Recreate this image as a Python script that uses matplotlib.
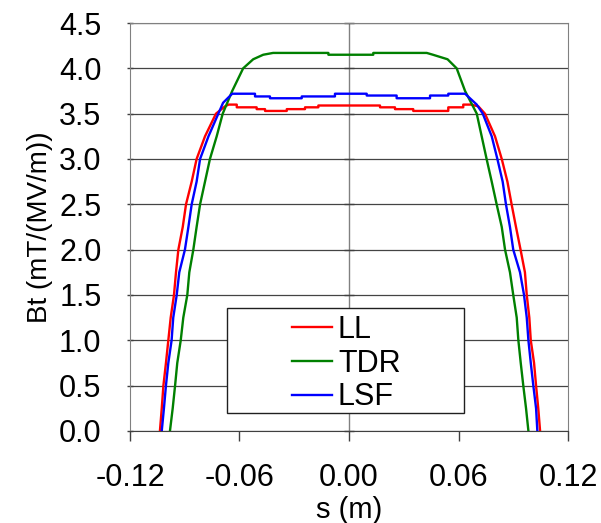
import matplotlib

matplotlib.use("Agg")
import matplotlib.pyplot as plt
from matplotlib.patches import Rectangle

plt.rcParams["font.family"] = ["Liberation Sans", "DejaVu Sans"]

# LL
ll_s = [-0.1036, -0.1026, -0.1017, -0.1003, -0.0990, -0.0977, -0.0959, -0.0948,
        -0.0935, -0.0911, -0.0893, -0.0862, -0.0835, -0.0789, -0.0729, -0.0680,
        -0.0660, -0.0615, -0.0615, -0.0506, -0.0506, -0.0460, -0.0460, -0.0341,
        -0.0341, -0.0241, -0.0241, -0.0168, -0.0168, 0.0170, 0.0170, 0.0252,
        0.0252, 0.0352, 0.0352, 0.0544, 0.0544, 0.0626, 0.0626, 0.0670,
        0.0709, 0.0745, 0.0800, 0.0837, 0.0868, 0.0891, 0.0915, 0.0940,
        0.0964, 0.0974, 0.0988, 0.0996, 0.1014, 0.1025, 0.1037, 0.1047]
ll_bt = [0.00, 0.25, 0.50, 0.75, 1.00, 1.25, 1.50, 1.75,
         2.00, 2.25, 2.50, 2.75, 3.00, 3.25, 3.50, 3.58,
         3.60, 3.60, 3.57, 3.57, 3.55, 3.55, 3.53, 3.53,
         3.55, 3.55, 3.57, 3.57, 3.59, 3.59, 3.57, 3.57,
         3.55, 3.55, 3.53, 3.53, 3.57, 3.57, 3.60, 3.60,
         3.58, 3.50, 3.25, 3.00, 2.75, 2.50, 2.25, 2.00,
         1.75, 1.50, 1.25, 1.00, 0.75, 0.50, 0.25, 0.00]

# TDR
tdr_s = [-0.0981, -0.0966, -0.0953, -0.0941, -0.0922, -0.0908, -0.0886, -0.0875,
         -0.0853, -0.0835, -0.0816, -0.0789, -0.0762, -0.0725, -0.0692, -0.0640,
         -0.0580, -0.0525, -0.0470, -0.0416, -0.0113, -0.0113, 0.0133, 0.0133,
         0.0426, 0.0460, 0.0540, 0.0590, 0.0636, 0.0700, 0.0727, 0.0754,
         0.0782, 0.0809, 0.0837, 0.0855, 0.0882, 0.0900, 0.0919, 0.0928,
         0.0941, 0.0955, 0.0970, 0.0983]
tdr_bt = [0.00, 0.25, 0.50, 0.75, 1.00, 1.25, 1.50, 1.75,
          2.00, 2.25, 2.50, 2.75, 3.00, 3.25, 3.50, 3.75,
          4.00, 4.10, 4.15, 4.17, 4.17, 4.15, 4.15, 4.17,
          4.17, 4.15, 4.10, 4.00, 3.75, 3.50, 3.25, 3.00,
          2.75, 2.50, 2.25, 2.00, 1.75, 1.50, 1.25, 1.00,
          0.75, 0.50, 0.25, 0.00]

# LSF
lsf_s = [-0.1026, -0.1014, -0.1003, -0.0990, -0.0972, -0.0963, -0.0944, -0.0930,
         -0.0899, -0.0880, -0.0862, -0.0835, -0.0816, -0.0770, -0.0716, -0.0690,
         -0.0640, -0.0515, -0.0515, -0.0433, -0.0433, -0.0259, -0.0259, -0.0077,
         -0.0077, 0.0097, 0.0097, 0.0261, 0.0261, 0.0444, 0.0444, 0.0544,
         0.0544, 0.0636, 0.0700, 0.0733, 0.0782, 0.0813, 0.0842, 0.0860,
         0.0882, 0.0900, 0.0937, 0.0959, 0.0974, 0.0983, 0.0996, 0.1010,
         0.1025, 0.1032]
lsf_bt = [0.00, 0.25, 0.50, 0.75, 1.00, 1.25, 1.50, 1.75,
          2.00, 2.25, 2.50, 2.75, 3.00, 3.25, 3.50, 3.62,
          3.72, 3.72, 3.69, 3.69, 3.67, 3.67, 3.69, 3.69,
          3.72, 3.72, 3.70, 3.70, 3.67, 3.67, 3.70, 3.70,
          3.72, 3.72, 3.60, 3.50, 3.25, 3.00, 2.75, 2.50,
          2.25, 2.00, 1.75, 1.50, 1.25, 1.00, 0.75, 0.50,
          0.25, 0.00]

x_ticks = [-0.12, -0.06, 0.00, 0.06, 0.12]
y_ticks = [0.0, 0.5, 1.0, 1.5, 2.0, 2.5, 3.0, 3.5, 4.0, 4.5]

fig = plt.figure(figsize=(6.01, 5.23), dpi=100)
ax = fig.add_axes([0.2163, 0.176, 0.7288, 0.78])

ax.set_xlim(-0.12, 0.12)
ax.set_ylim(0, 4.5)
ax.set_xticks(x_ticks, [f"{v:.2f}" for v in x_ticks])
ax.set_yticks(y_ticks, [f"{v:.1f}" for v in y_ticks])
ax.tick_params(axis="x", direction="out", length=7, width=1, pad=16,
               labelsize=22, color="#404040")
ax.tick_params(axis="y", direction="inout", length=5, width=1, pad=18,
               labelsize=22, color="#404040")

ax.yaxis.grid(True, color="#444444", lw=0.9, zorder=0)
ax.set_axisbelow(True)
ax.axvline(0, color="#808080", lw=1, zorder=1)
ax.plot([0] * len(y_ticks), y_ticks, ls="none", marker="_", ms=7, mew=1,
        color="#404040", zorder=1, clip_on=False)

for side in ["top", "right", "left"]:
    ax.spines[side].set_color("#808080")
ax.spines["bottom"].set_color("#404040")

ax.plot(ll_s, ll_bt, color="#ff0000", lw=1.7, label="LL", zorder=4)
ax.plot(tdr_s, tdr_bt, color="#008000", lw=1.7, label="TDR", zorder=4)
ax.plot(lsf_s, lsf_bt, color="#0000ff", lw=1.7, label="LSF", zorder=4)

ax.add_patch(Rectangle((0.2215, 0.044), 0.5411, 0.257, transform=ax.transAxes,
                       facecolor="white", edgecolor="#202020", lw=1, zorder=3))
ax.legend(loc="center left", bbox_to_anchor=(0.37, 0.165), frameon=False,
          fontsize=22, handlelength=1.3, handletextpad=0.2, labelspacing=0.12,
          borderpad=0, borderaxespad=0)

ax.set_xlabel("s (m)", fontsize=21, labelpad=2)
ax.set_ylabel("Bt (mT/(MV/m))", fontsize=20, labelpad=4)

fig.savefig("out.png", dpi=100)
